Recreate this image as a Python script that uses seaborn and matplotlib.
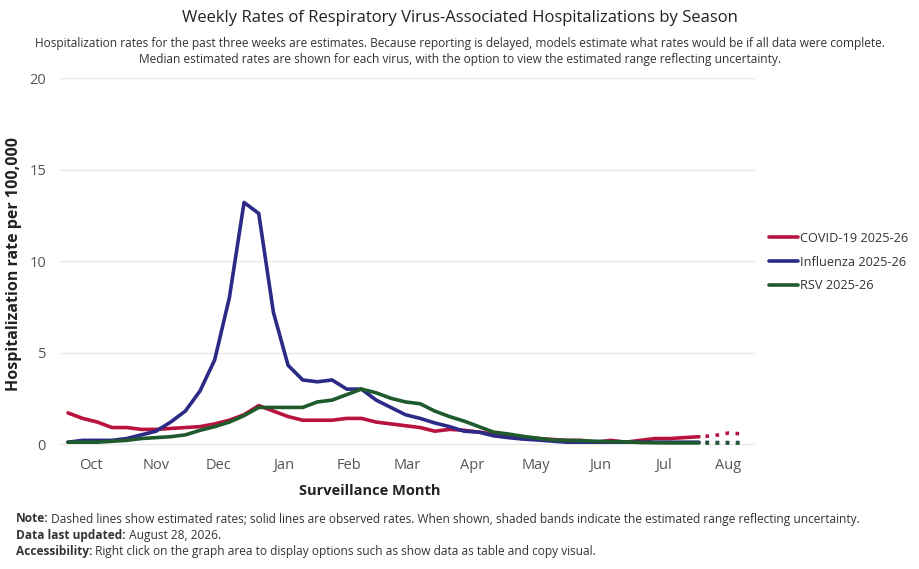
import pandas as pd
import seaborn as sns
import matplotlib.pyplot as plt

# weekly rates per 100,000, first week ending 2025-10-04
covid = [1.7, 1.4, 1.2, 0.9, 0.9, 0.8, 0.8, 0.85, 0.9, 0.95, 1.1, 1.3, 1.6, 2.1, 1.8,
         1.5, 1.3, 1.3, 1.3, 1.4, 1.4, 1.2, 1.1, 1.0, 0.9, 0.7, 0.8, 0.75, 0.65, 0.55,
         0.45, 0.35, 0.3, 0.25, 0.2, 0.2, 0.1, 0.2, 0.1, 0.2, 0.3, 0.3, 0.35, 0.4,
         0.45, 0.6, 0.55]
flu = [0.1, 0.2, 0.2, 0.2, 0.3, 0.5, 0.7, 1.2, 1.8, 2.9, 4.6, 8.0, 13.2, 12.6, 7.2,
       4.3, 3.5, 3.4, 3.5, 3.0, 3.0, 2.4, 2.0, 1.6, 1.4, 1.15, 0.95, 0.7, 0.65, 0.45,
       0.35, 0.27, 0.22, 0.16, 0.1, 0.1, 0.1, 0.1, 0.1, 0.1, 0.1, 0.1, 0.1, 0.1,
       0.08, 0.08, 0.08]
rsv = [0.1, 0.1, 0.1, 0.15, 0.2, 0.3, 0.35, 0.4, 0.5, 0.75, 0.95, 1.2, 1.55, 2.0, 2.0,
       2.0, 2.0, 2.3, 2.4, 2.7, 3.0, 2.8, 2.5, 2.3, 2.2, 1.8, 1.5, 1.25, 0.95, 0.65,
       0.55, 0.42, 0.32, 0.22, 0.2, 0.18, 0.15, 0.13, 0.12, 0.08, 0.07, 0.06, 0.06, 0.06,
       0.06, 0.06, 0.06]
n_estimated = 3  # last three weeks are model estimates

viruses = ["COVID-19 2025-26", "Influenza 2025-26", "RSV 2025-26"]
colors = ["#b8123e", "#2b2a86", "#1f5a2c"]
month_labels = ["Oct", "Nov", "Dec", "Jan", "Feb", "Mar", "Apr", "May", "Jun", "Jul", "Aug"]
y_ticks = [0, 5, 10, 15, 20]

weeks = pd.date_range("2025-10-04", periods=len(covid), freq="7D")
month_ticks = pd.date_range("2025-10-01", periods=len(month_labels), freq="MS") + pd.Timedelta(days=14)

rows = []
for name, vals in zip(viruses, [covid, flu, rsv]):
    for i, (d, v) in enumerate(zip(weeks, vals)):
        rows.append({"week": d, "rate": v, "virus": name, "idx": i})
df = pd.DataFrame(rows)
n_obs = len(covid) - n_estimated
observed = df[df["idx"] < n_obs]
estimated = df[df["idx"] >= n_obs - 1]

sns.set_style("white")
plt.rcParams["font.family"] = ["Open Sans", "DejaVu Sans"]

fig = plt.figure(figsize=(9.2, 5.69), dpi=100)
ax = fig.add_axes([0.0652, 0.21, 0.7554, 0.6529])

palette = dict(zip(viruses, colors))
sns.lineplot(data=observed, x="week", y="rate", hue="virus", palette=palette,
             linewidth=2.6, ax=ax)
sns.lineplot(data=estimated, x="week", y="rate", hue="virus", palette=palette,
             linewidth=2.6, linestyle=(1.0, (1.0, 1.8)), legend=False, ax=ax)
for line in ax.get_lines():
    line.set_dash_capstyle("butt")

ax.set_ylim(-0.3, 20)
ax.set_xlim(weeks[0] - pd.Timedelta(days=3.8), weeks[-1] + pd.Timedelta(days=5.7))
ax.set_yticks(y_ticks)
ax.set_xticks(month_ticks)
ax.set_xticklabels(month_labels)
ax.tick_params(axis="both", length=0, labelsize=10.5, labelcolor="#555555")
ax.tick_params(axis="y", pad=10)
ax.tick_params(axis="x", pad=6)
ax.grid(axis="y", color="#e8e8e8", linewidth=1)
ax.grid(axis="x", visible=False)
sns.despine(ax=ax, left=True, bottom=True)
ax.set_xlabel("")
ax.set_ylabel("")

fig.text(14 / 920, 0.21 + 0.6529 / 2, "Hospitalization rate per 100,000",
         rotation=90, ha="center", va="center", fontsize=11.5, fontweight="bold", color="#222222")
fig.text(370 / 920, 1 - 491 / 569, "Surveillance Month", ha="center", va="center",
         fontsize=10.5, fontweight="bold", color="#222222")

leg = ax.legend(loc="center left", bbox_to_anchor=((769 - 60) / 695, (449.5 - 262) / 371.5),
                frameon=False, fontsize=9.2, handlelength=2.3, handletextpad=0.15,
                labelspacing=0.85, borderpad=0, borderaxespad=0)
for t in leg.get_texts():
    t.set_color("#333333")

fig.text(0.5, 1 - 18 / 569, "Weekly Rates of Respiratory Virus-Associated Hospitalizations by Season",
         ha="center", va="center", fontsize=12, color="#222222")
fig.text(0.5, 1 - 43 / 569,
         "Hospitalization rates for the past three weeks are estimates. Because reporting is delayed, "
         "models estimate what rates would be if all data were complete.",
         ha="center", va="center", fontsize=8.6, color="#333333")
fig.text(0.5, 1 - 60 / 569,
         "Median estimated rates are shown for each virus, with the option to view the estimated "
         "range reflecting uncertainty.",
         ha="center", va="center", fontsize=8.6, color="#333333")

notes = [
    ("Note:", " Dashed lines show estimated rates; solid lines are observed rates. When shown, "
              "shaded bands indicate the estimated range reflecting uncertainty."),
    ("Data last updated:", " August 28, 2026."),
    ("Accessibility:", " Right click on the graph area to display options such as show data as "
                       "table and copy visual."),
]
renderer = fig.canvas.get_renderer()
for k, (head, body) in enumerate(notes):
    y = 1 - (519 + 16.5 * k) / 569
    t = fig.text(16 / 920, y, head, ha="left", va="center", fontsize=8.6,
                 fontweight="bold", color="#333333")
    bb = t.get_window_extent(renderer)
    fig.text(bb.x1 / fig.bbox.width, y, body, ha="left", va="center", fontsize=8.6,
             color="#333333")

fig.savefig("out.png", dpi=100)
